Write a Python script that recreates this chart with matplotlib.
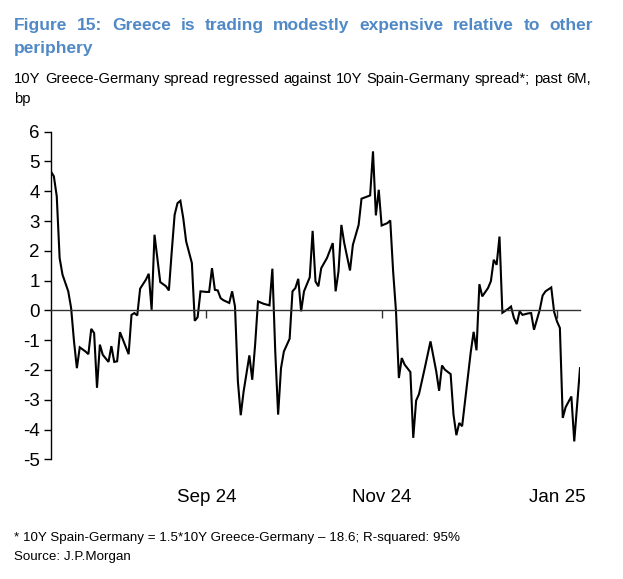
import pandas as pd
import matplotlib.pyplot as plt

plt.rcParams['font.family'] = ['Liberation Sans', 'DejaVu Sans']
plt.rcParams['axes.unicode_minus'] = False

# residual of 10Y GR-DE vs 10Y ES-DE regression, bp
dates = ['2024-07-23', '2024-07-24', '2024-07-25', '2024-07-26', '2024-07-27', '2024-07-29', '2024-07-30', '2024-07-31',
         '2024-08-01', '2024-08-02', '2024-08-04', '2024-08-05', '2024-08-06', '2024-08-07', '2024-08-08', '2024-08-09',
         '2024-08-10', '2024-08-12', '2024-08-13', '2024-08-14', '2024-08-15', '2024-08-16', '2024-08-19', '2024-08-20',
         '2024-08-21', '2024-08-22', '2024-08-23', '2024-08-25', '2024-08-26', '2024-08-27', '2024-08-28', '2024-08-30',
         '2024-09-01', '2024-09-02', '2024-09-03', '2024-09-04', '2024-09-05', '2024-09-06', '2024-09-07', '2024-09-08',
         '2024-09-10', '2024-09-11', '2024-09-12', '2024-09-13', '2024-09-15', '2024-09-16', '2024-09-17', '2024-09-18',
         '2024-09-19', '2024-09-20', '2024-09-21', '2024-09-23', '2024-09-24', '2024-09-25', '2024-09-26', '2024-09-27',
         '2024-09-28', '2024-09-30', '2024-10-01', '2024-10-02', '2024-10-03', '2024-10-05', '2024-10-07', '2024-10-08',
         '2024-10-09', '2024-10-10', '2024-10-11', '2024-10-12', '2024-10-14', '2024-10-15', '2024-10-16', '2024-10-17',
         '2024-10-18', '2024-10-19', '2024-10-21', '2024-10-22', '2024-10-23', '2024-10-24', '2024-10-25', '2024-10-26',
         '2024-10-27', '2024-10-29', '2024-10-30', '2024-10-31', '2024-11-01', '2024-11-02', '2024-11-04', '2024-11-05',
         '2024-11-07', '2024-11-08', '2024-11-11', '2024-11-12', '2024-11-13', '2024-11-14', '2024-11-15', '2024-11-17',
         '2024-11-18', '2024-11-19', '2024-11-20', '2024-11-21', '2024-11-22', '2024-11-23', '2024-11-25', '2024-11-26',
         '2024-11-27', '2024-11-28', '2024-11-30', '2024-12-02', '2024-12-04', '2024-12-05', '2024-12-06', '2024-12-07',
         '2024-12-09', '2024-12-10', '2024-12-11', '2024-12-12', '2024-12-13', '2024-12-16', '2024-12-17', '2024-12-18',
         '2024-12-19', '2024-12-20', '2024-12-22', '2024-12-23', '2024-12-24', '2024-12-25', '2024-12-26', '2024-12-27',
         '2024-12-29', '2024-12-30', '2024-12-31', '2025-01-01', '2025-01-02', '2025-01-03', '2025-01-05', '2025-01-06',
         '2025-01-07', '2025-01-09', '2025-01-10', '2025-01-11', '2025-01-13', '2025-01-14', '2025-01-15', '2025-01-16',
         '2025-01-17', '2025-01-18', '2025-01-20', '2025-01-21', '2025-01-23']
values = [4.66, 4.5, 3.83, 1.76, 1.2, 0.64, 0.08, -1.04, -1.94, -1.24,
          -1.38, -1.47, -0.62, -0.76, -2.6, -1.15, -1.49, -1.73, -1.2, -1.73,
          -1.71, -0.73, -1.47, -0.15, -0.09, -0.17, 0.73, 1.03, 1.23, 0.02,
          2.54, 0.95, 0.81, 0.67, 1.98, 3.21, 3.6, 3.68, 3.1, 2.32,
          1.59, -0.35, -0.23, 0.64, 0.62, 0.62, 1.42, 0.69, 0.67, 0.41,
          0.34, 0.25, 0.64, 0.13, -2.38, -3.52, -2.72, -1.51, -2.33, -1.15,
          0.3, 0.22, 0.17, 1.4, -1.38, -3.5, -1.94, -1.38, -0.95, 0.64,
          0.75, 1.06, -0.03, 0.64, 1.11, 2.67, 0.97, 0.81, 1.42, 1.59,
          1.76, 2.26, 0.64, 1.31, 2.87, 2.26, 1.34, 2.2, 2.87, 3.75,
          3.86, 5.34, 3.19, 4.05, 2.85, 2.93, 3.02, 1.31, -0.03, -2.27,
          -1.6, -1.82, -2.07, -4.28, -3.03, -2.81, -1.94, -1.04, -2.05, -2.7,
          -1.85, -1.99, -2.14, -3.5, -4.19, -3.78, -3.89, -1.4, -0.72, -1.34,
          0.88, 0.47, 0.75, 0.98, 1.7, 1.53, 2.48, -0.08, 0.05, 0.13,
          -0.25, -0.46, -0.03, -0.15, -0.1, -0.09, -0.65, 0.02, 0.5, 0.64,
          0.77, -0.05, -0.37, -0.59, -3.61, -3.25, -2.89, -4.4, -1.94]

x_ticks = ['2024-09-15', '2024-11-15', '2025-01-15']
x_labels = ['Sep 24', 'Nov 24', 'Jan 25']
y_ticks = list(range(-5, 7))

title1 = 'Figure 15: Greece is trading modestly expensive relative to other'
title2 = 'periphery'
sub1 = '10Y Greece-Germany spread regressed against 10Y Spain-Germany spread*; past 6M,'
sub2 = 'bp'
note = '* 10Y Spain-Germany = 1.5*10Y Greece-Germany \u2013 18.6; R-squared: 95%'
source = 'Source: J.P.Morgan'

W, H = 623, 579
fig = plt.figure(figsize=(W / 100, H / 100), dpi=100)
ax = fig.add_axes([51 / W, 1 - 459.3 / H, 529 / W, 327.6 / H])

s = pd.Series(values, index=pd.to_datetime(dates))
ax.plot(s.index, s.values, color='black', lw=1.5, solid_joinstyle='miter')

ax.set_xlim(pd.Timestamp('2024-07-23'), pd.Timestamp('2025-01-23'))
ax.set_ylim(-5, 6)

for side in ['top', 'right']:
    ax.spines[side].set_visible(False)
ax.spines['bottom'].set_position(('data', 0))
ax.spines['bottom'].set_color('#333333')
ax.spines['bottom'].set_linewidth(1.0)
ax.spines['left'].set_linewidth(1.0)

ax.set_yticks(y_ticks)
ax.set_yticklabels([str(v) for v in y_ticks], fontsize=13.5)
ax.tick_params(axis='y', direction='out', length=5, width=1, pad=3)

ax.set_xticks(pd.to_datetime(x_ticks))
ax.tick_params(axis='x', direction='out', length=6, width=1, color='#333333', labelbottom=False)
for d, lab in zip(pd.to_datetime(x_ticks), x_labels):
    ax.text(d, -0.129, lab, transform=ax.get_xaxis_transform(), ha='center', va='baseline',
            fontsize=13.5)


def justify(words, y, x0, x1, **kw):
    r = fig.canvas.get_renderer()
    texts = [fig.text(0, y, w, va='baseline', **kw) for w in words]
    widths = [t.get_window_extent(r).width for t in texts]
    gap = (x1 - x0 - sum(widths)) / (len(words) - 1)
    x = x0
    for t, w in zip(texts, widths):
        t.set_x(x / W)
        x += w + gap


blue = '#5089C6'
justify(title1.split(' '), 1 - 30 / H, 14, 593, fontsize=12.5, fontweight='bold', color=blue)
fig.text(14 / W, 1 - 53.3 / H, title2, va='baseline', fontsize=12.5, fontweight='bold', color=blue)
justify(sub1.split(' '), 1 - 83.3 / H, 14, 591, fontsize=10.6, color='black')
fig.text(14 / W, 1 - 103.3 / H, sub2, va='baseline', fontsize=10.6, color='black')
fig.text(14 / W, 1 - 540.7 / H, note, va='baseline', fontsize=9.6, color='black')
fig.text(14 / W, 1 - 560 / H, source, va='baseline', fontsize=9.6, color='black')

fig.savefig('out.png', dpi=100)
